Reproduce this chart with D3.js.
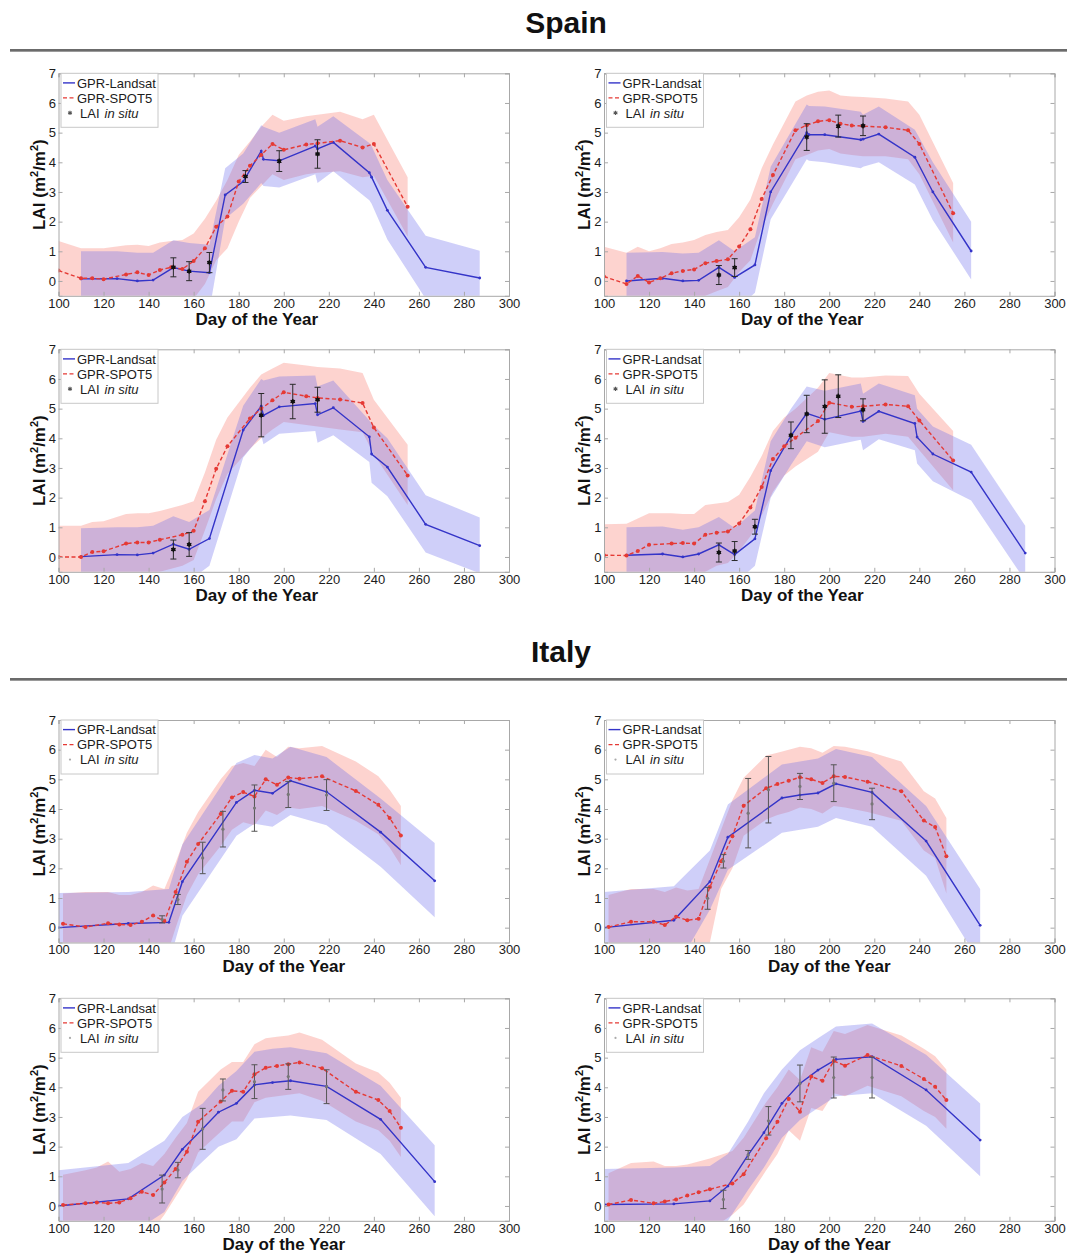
<!DOCTYPE html>
<html>
<head>
<meta charset="utf-8">
<script src="https://cdn.jsdelivr.net/npm/d3@7"></script>
<style>
  body { margin: 0; background: #fff; }
  svg { display: block; }
</style>
</head>
<body>
<script>
// LAI time series per site: rows are [day, LAI, lower bound, upper bound]
// in-situ rows are [day, LAI, std]
const spainA_landsat = [[110,0.07,-2.0,1.0],[126,0.08,-2.0,1.0],[135,0.0,-2.0,0.95],[142,0.03,-2.0,0.95],[151,0.45,-1.5,1.37],[158,0.33,-1.5,1.28],[167,0.28,-1.0,1.22],[174,2.9,2.1,3.8],[182,3.35,2.6,4.3],[190,4.38,3.3,5.25],[191,4.1,3.2,5.2],[198,4.05,3.15,5.0],[214,4.55,3.6,5.45],[215,4.45,3.3,5.2],[222,4.67,3.7,5.55],[238,3.65,2.72,4.65],[239,3.5,2.6,4.55],[246,2.38,1.4,3.4],[263,0.46,-0.6,1.52],[287,0.1,-0.8,1.02]];
const spainA_spot = [[100,0.35,-1.5,1.35],[110,0.09,-1.5,1.1],[115,0.09,-1.5,1.1],[120,0.06,-1.5,1.1],[130,0.22,-1.5,1.2],[135,0.29,-1.5,1.22],[140,0.2,-1.5,1.18],[145,0.37,-1.4,1.3],[150,0.46,-1.2,1.35],[155,0.40,-1.0,1.38],[160,0.67,-0.6,1.6],[165,1.1,-0.1,2.1],[170,1.83,0.7,2.7],[175,2.17,1.1,3.4],[180,3.35,2.0,4.25],[185,3.88,2.8,4.7],[190,4.25,3.2,5.2],[195,4.62,3.6,5.6],[200,4.42,3.4,5.4],[210,4.6,3.6,5.55],[215,4.64,3.65,5.6],[225,4.73,3.7,5.7],[235,4.5,3.5,5.45],[240,4.62,3.55,5.6],[255,2.5,1.5,3.5]];
const spainA_insitu = [[151,0.46,0.32],[158,0.33,0.32],[167,0.62,0.34],[183,3.52,0.2],[198,4.04,0.35],[215,4.28,0.48]];

const spainB_landsat = [[110,0.0,-2.0,0.95],[126,0.09,-2.0,0.98],[135,0.0,-2.0,0.93],[142,0.02,-1.8,0.95],[151,0.46,-1.0,1.37],[158,0.12,-1.0,1.0],[167,0.54,-0.4,1.47],[174,3.0,2.08,3.85],[190,5.0,4.1,5.95],[191,4.93,4.05,5.9],[198,4.93,4.0,5.88],[214,4.76,3.8,5.7],[215,4.78,3.85,5.6],[222,4.95,4.0,5.88],[238,4.17,3.25,5.1],[246,3.0,2.05,4.0],[263,1.01,0.05,2.0]];
const spainB_spot = [[100,0.15,-1.5,1.15],[110,-0.1,-1.5,0.95],[115,0.17,-1.5,1.15],[120,-0.05,-1.5,1.0],[125,0.09,-1.5,1.1],[130,0.26,-1.4,1.25],[135,0.34,-1.2,1.3],[140,0.39,-0.9,1.38],[145,0.6,-0.5,1.55],[150,0.67,-0.35,1.65],[155,0.73,-0.2,1.72],[160,1.16,0.3,2.15],[165,1.74,0.7,2.75],[170,2.76,1.8,3.8],[175,3.57,2.6,4.6],[185,5.08,4.1,6.05],[190,5.25,4.25,6.25],[195,5.38,4.4,6.38],[200,5.42,4.45,6.42],[205,5.3,4.3,6.25],[210,5.24,4.25,6.22],[215,5.22,4.2,6.2],[225,5.18,4.2,6.15],[235,5.08,4.1,6.05],[240,4.62,3.6,5.6],[255,2.28,1.3,3.3]];
const spainB_insitu = [[151,0.2,0.32],[158,0.45,0.3],[190,4.85,0.45],[204,5.22,0.37],[215,5.23,0.33]];

const spainC_landsat = [[110,0.01,-2.0,0.97],[126,0.08,-2.0,1.0],[135,0.07,-2.0,1.0],[142,0.13,-1.8,1.05],[151,0.43,-1.2,1.37],[158,0.26,-0.8,1.18],[167,0.62,-0.3,1.58],[182,4.28,3.35,5.1],[190,5.08,4.1,6.0],[191,4.77,3.8,5.95],[198,5.06,4.15,6.08],[214,5.17,4.25,6.12],[215,4.79,3.85,5.75],[222,5.03,4.1,5.95],[238,4.05,3.2,4.6],[239,3.47,2.5,4.5],[246,3.03,2.05,4.0],[263,1.1,0.15,2.08],[287,0.38,-0.55,1.33]];
const spainC_spot = [[100,0.0,-1.5,1.05],[110,0.0,-1.5,1.05],[115,0.17,-1.5,1.18],[120,0.19,-1.5,1.2],[130,0.45,-1.4,1.45],[135,0.49,-1.3,1.47],[140,0.49,-1.0,1.47],[145,0.58,-0.5,1.55],[155,0.75,-0.3,1.75],[160,0.88,-0.1,1.88],[165,1.88,0.9,2.85],[170,2.97,1.95,3.95],[175,3.73,2.8,4.7],[185,4.67,3.65,5.7],[190,5.0,4.0,6.15],[195,5.28,4.3,6.35],[200,5.55,4.55,6.55],[210,5.42,4.45,6.45],[215,5.36,4.4,6.4],[225,5.31,4.3,6.35],[235,5.19,4.2,6.2],[240,4.36,3.45,5.3],[255,2.75,1.75,3.78]];
const spainC_insitu = [[151,0.25,0.32],[158,0.42,0.4],[190,4.78,0.73],[204,5.24,0.58],[215,5.3,0.42]];

const spainD_landsat = [[110,0.06,-2.0,1.0],[126,0.1,-2.0,1.03],[135,0.0,-2.0,0.92],[142,0.1,-1.5,1.0],[151,0.41,-0.8,1.35],[158,0.08,-0.9,0.98],[167,0.61,-0.3,1.57],[174,2.91,2.0,3.9],[183,4.08,3.1,5.0],[190,4.84,3.9,5.75],[198,4.64,3.7,5.6],[214,4.92,3.95,5.85],[215,4.57,3.6,5.5],[222,4.91,3.97,5.85],[238,4.5,3.6,5.45],[239,4.04,3.15,5.0],[246,3.47,2.55,4.4],[263,2.86,1.9,3.78],[287,0.13,-0.8,1.05]];
const spainD_spot = [[100,0.06,-1.5,1.1],[110,0.05,-1.5,1.12],[115,0.2,-1.5,1.3],[120,0.41,-1.5,1.47],[130,0.45,-1.4,1.47],[135,0.47,-1.3,1.45],[140,0.45,-1.0,1.45],[145,0.75,-0.5,1.75],[150,0.82,-0.3,1.8],[155,0.86,-0.2,1.85],[160,1.13,0.2,2.1],[165,1.67,0.7,2.7],[170,2.36,1.4,3.4],[175,3.3,2.2,4.25],[180,3.73,2.75,4.7],[185,4.02,3.05,5.0],[195,4.58,3.55,5.7],[200,5.2,4.2,6.2],[210,5.06,4.05,6.05],[215,5.08,4.05,6.05],[225,5.14,4.15,6.12],[235,5.08,4.05,6.1],[240,4.6,3.6,5.5],[255,3.25,2.25,4.25]];
const spainD_insitu = [[151,0.15,0.32],[158,0.2,0.32],[167,1.02,0.25],[183,4.1,0.45],[190,4.82,0.63],[198,5.07,0.9],[204,5.42,0.72],[215,4.96,0.37]];

const italyA_landsat = [[100,0.0,-1.5,1.17],[131,0.14,-1.5,1.2],[149,0.18,-1.2,1.3],[155,1.55,0.4,2.8],[179,4.22,3.1,5.55],[187,4.63,3.5,5.82],[195,4.53,3.4,5.7],[203,4.95,3.8,6.1],[219,4.58,3.45,5.75],[243,3.22,2.05,4.35],[267,1.58,0.35,2.85]];
const italyA_spot = [[102,0.13,-1.5,1.15],[112,0.02,-1.5,1.2],[122,0.15,-1.5,1.2],[127,0.11,-1.5,1.1],[132,0.09,-1.5,1.1],[137,0.2,-1.5,1.2],[142,0.41,-1.3,1.42],[147,0.22,-1.2,1.3],[152,1.2,0.0,2.2],[157,2.22,1.1,3.2],[162,2.82,1.8,3.9],[172,3.83,2.75,5.0],[177,4.39,3.3,5.45],[182,4.57,3.55,5.55],[187,4.42,3.45,5.45],[192,5.0,3.95,6.0],[197,4.82,3.8,5.75],[202,5.06,4.05,6.1],[207,5.02,4.0,6.05],[217,5.1,4.1,6.12],[232,4.61,3.6,5.6],[242,4.14,3.15,5.1],[247,3.7,2.7,4.65],[252,3.11,2.1,4.1]];
const italyA_insitu = [[146,0.28,0.12],[153,0.95,0.17],[164,2.35,0.53],[173,3.32,0.6],[187,4.03,0.78],[202,4.49,0.44],[219,4.47,0.52]];

const italyB_landsat = [[100,0.0,-1.5,1.2],[131,0.25,-1.5,1.4],[147,1.55,0.6,2.6],[155,3.05,1.95,4.15],[179,4.37,3.2,5.5],[187,4.47,3.3,5.6],[195,4.54,3.4,5.7],[203,4.85,3.7,6.02],[219,4.56,3.4,5.75],[243,2.92,1.75,4.1],[267,0.08,-1.2,1.3]];
const italyB_spot = [[102,0.02,-1.5,1.1],[112,0.2,-1.5,1.3],[122,0.2,-1.5,1.3],[127,0.09,-1.5,1.2],[132,0.37,-1.5,1.35],[137,0.25,-1.5,1.25],[142,0.3,-1.5,1.3],[147,1.37,-0.5,2.3],[152,2.24,1.3,3.3],[157,3.08,2.0,4.3],[162,4.11,3.1,5.05],[172,4.7,3.65,5.8],[177,4.84,3.8,5.9],[182,4.95,3.9,6.0],[187,5.07,4.05,6.1],[192,5.0,4.0,6.05],[197,4.88,3.85,5.9],[202,5.1,4.1,6.12],[207,5.08,4.05,6.1],[217,4.92,3.9,5.95],[232,4.6,3.6,5.6],[242,3.61,2.6,4.6],[247,3.39,2.35,4.35],[252,2.41,1.15,3.7]];
const italyB_insitu = [[146,0.99,0.37],[153,2.24,0.23],[164,3.86,1.17],[173,4.65,1.12],[187,4.76,0.44],[202,4.87,0.62],[219,4.17,0.53]];

const italyC_landsat = [[100,0.0,-1.5,1.2],[131,0.24,-1.0,1.45],[147,1.04,-0.2,2.2],[155,1.91,0.85,3.0],[164,2.6,1.5,3.45],[171,3.16,2.0,4.05],[179,3.46,2.25,4.55],[187,4.08,2.95,5.2],[195,4.16,3.0,5.3],[203,4.22,3.05,5.35],[219,4.03,2.9,5.15],[243,2.92,1.75,4.05],[267,0.82,-0.35,2.05]];
const italyC_spot = [[102,0.03,-1.5,1.05],[112,0.09,-1.5,1.2],[117,0.12,-1.5,1.3],[122,0.09,-1.5,1.5],[127,0.12,-1.5,1.15],[132,0.26,-1.4,1.25],[137,0.48,-1.0,1.45],[142,0.37,-0.8,1.35],[147,0.79,-0.3,1.75],[152,1.25,0.3,2.3],[157,1.83,0.9,2.8],[162,2.84,1.8,3.85],[172,3.52,2.5,4.6],[177,3.88,2.85,4.85],[182,3.85,2.85,4.85],[187,4.44,3.5,5.45],[192,4.66,3.65,5.65],[197,4.72,3.7,5.7],[202,4.78,3.75,5.75],[207,4.84,3.8,5.85],[217,4.64,3.55,5.6],[232,3.85,2.85,4.8],[242,3.57,2.55,4.5],[247,3.2,2.2,4.15],[252,2.64,1.65,3.65]];
const italyC_insitu = [[146,0.57,0.47],[153,1.21,0.26],[164,2.6,0.69],[173,3.91,0.37],[187,4.19,0.57],[202,4.36,0.43],[219,4.02,0.57]];

const italyD_landsat = [[100,0.05,-1.5,1.25],[131,0.07,-1.3,1.3],[147,0.17,-1.0,1.35],[155,0.67,-0.5,1.75],[164,1.72,0.55,2.85],[171,2.47,1.3,3.8],[179,3.46,2.3,4.6],[187,4.13,2.9,5.25],[195,4.58,3.3,5.65],[203,4.94,3.7,6.05],[219,5.03,3.8,6.15],[243,3.91,2.7,5.1],[267,2.22,1.0,3.45]];
const italyD_spot = [[102,0.05,-1.5,1.1],[112,0.2,-1.5,1.45],[122,0.09,-1.5,1.5],[127,0.15,-1.5,1.35],[132,0.22,-1.4,1.35],[137,0.35,-1.2,1.4],[142,0.46,-1.0,1.5],[147,0.56,-0.8,1.6],[157,0.76,-0.3,1.85],[162,1.07,0.05,2.3],[172,2.28,1.2,3.5],[177,2.84,1.75,4.0],[182,3.61,2.55,4.6],[187,3.18,2.2,4.25],[192,4.36,3.3,5.35],[197,4.22,3.2,5.2],[202,4.89,3.8,5.9],[207,4.73,3.7,5.8],[217,5.09,4.05,6.1],[232,4.72,3.7,5.75],[242,4.28,3.2,5.3],[247,4.02,3.0,5.05],[252,3.57,2.6,4.6]];
const italyD_insitu = [[153,0.22,0.31],[164,1.72,0.15],[173,2.87,0.48],[187,4.13,0.62],[202,4.33,0.69],[219,4.33,0.69]];

const dayTicks = [100, 120, 140, 160, 180, 200, 220, 240, 260, 280, 300];
const laiTicks = [0, 1, 2, 3, 4, 5, 6, 7];
const legendLabels = ["GPR-Landsat", "GPR-SPOT5", "LAI"];
const sectionTitles = ["Spain", "Italy"];

// ---- layout ----
const W = 1067, H = 1254;
const PW = 450.5, PH = 222.5;
const colX = [58.5, 604];
const rowY = [73.3, 349.3, 720, 998.3];

const panels = [
  { landsat: spainA_landsat, spot: spainA_spot, insitu: spainA_insitu, col: 0, row: 0, star: true },
  { landsat: spainB_landsat, spot: spainB_spot, insitu: spainB_insitu, col: 1, row: 0, star: true },
  { landsat: spainC_landsat, spot: spainC_spot, insitu: spainC_insitu, col: 0, row: 1, star: true },
  { landsat: spainD_landsat, spot: spainD_spot, insitu: spainD_insitu, col: 1, row: 1, star: true },
  { landsat: italyA_landsat, spot: italyA_spot, insitu: italyA_insitu, col: 0, row: 2, star: false },
  { landsat: italyB_landsat, spot: italyB_spot, insitu: italyB_insitu, col: 1, row: 2, star: false },
  { landsat: italyC_landsat, spot: italyC_spot, insitu: italyC_insitu, col: 0, row: 3, star: false },
  { landsat: italyD_landsat, spot: italyD_spot, insitu: italyD_insitu, col: 1, row: 3, star: false }
];

const BLUE = "#3434c8", RED = "#e53a35";
const BLUE_FILL = "rgb(105,105,235)", RED_FILL = "rgb(250,110,95)";
const FRAME = "#a8a8a8";
const FONT = "'Liberation Sans', Arial, Helvetica, sans-serif";

const svg = d3.select("body").append("svg")
  .attr("width", W).attr("height", H)
  .style("font-family", FONT);

// section headings with rule underneath
const headings = [
  { text: sectionTitles[0], x: 566, y: 33, rule: 50 },
  { text: sectionTitles[1], x: 561, y: 662, rule: 679 }
];
headings.forEach(hd => {
  svg.append("text").attr("x", hd.x).attr("y", hd.y)
    .attr("text-anchor", "middle").attr("font-size", 30).attr("font-weight", "bold")
    .attr("fill", "#111").text(hd.text);
  svg.append("line").attr("x1", 10).attr("x2", W).attr("y1", hd.rule).attr("y2", hd.rule)
    .attr("stroke", "#3a3a3a").attr("stroke-width", 1.6);
  svg.append("line").attr("x1", 10).attr("x2", W).attr("y1", hd.rule + 1.5).attr("y2", hd.rule + 1.5)
    .attr("stroke", "#9a9a9a").attr("stroke-width", 1);
});

function asterisk(g, cx, cy, r, color) {
  const p = d3.path();
  for (let k = 0; k < 3; k++) {
    const a = Math.PI / 2 + k * Math.PI / 3;
    p.moveTo(cx + r * Math.cos(a), cy + r * Math.sin(a));
    p.lineTo(cx - r * Math.cos(a), cy - r * Math.sin(a));
  }
  g.append("path").attr("d", p.toString()).attr("stroke", color).attr("stroke-width", 1.1).attr("fill", "none");
}

panels.forEach((p, i) => {
  const ox = colX[p.col], oy = rowY[p.row];
  const g = svg.append("g").attr("transform", `translate(${ox},${oy})`);
  const x = d3.scaleLinear().domain([100, 300]).range([0, PW]);
  const y = d3.scaleLinear().domain([-0.5, 7]).range([PH, 0]);

  const clipId = "clip" + i;
  g.append("clipPath").attr("id", clipId).append("rect")
    .attr("x", 0).attr("y", 0).attr("width", PW).attr("height", PH);
  const plot = g.append("g").attr("clip-path", `url(#${clipId})`);

  const band = d3.area().x(d => x(d[0])).y0(d => y(d[2])).y1(d => y(d[3]));
  const line = d3.line().x(d => x(d[0])).y(d => y(d[1]));

  // uncertainty bands
  plot.append("path").datum(p.spot).attr("d", band)
    .attr("fill", RED_FILL).attr("fill-opacity", 0.3);
  plot.append("path").datum(p.landsat).attr("d", band)
    .attr("fill", BLUE_FILL).attr("fill-opacity", 0.32);

  // GPR-Landsat
  plot.append("path").datum(p.landsat).attr("d", line)
    .attr("fill", "none").attr("stroke", BLUE).attr("stroke-width", 1.4);
  plot.selectAll(".ld").data(p.landsat).join("circle")
    .attr("cx", d => x(d[0])).attr("cy", d => y(d[1])).attr("r", 1.4).attr("fill", BLUE);

  // GPR-SPOT5
  plot.append("path").datum(p.spot).attr("d", line)
    .attr("fill", "none").attr("stroke", RED).attr("stroke-width", 1.4)
    .attr("stroke-dasharray", "4,2.5");
  plot.selectAll(".sd").data(p.spot).join("circle")
    .attr("cx", d => x(d[0])).attr("cy", d => y(d[1])).attr("r", 2).attr("fill", RED);

  // in-situ LAI with error bars
  const ebColor = p.star ? "#2a2a2a" : "#555";
  p.insitu.forEach(d => {
    const cx = x(d[0]), top = y(d[1] + d[2]), bot = y(d[1] - d[2]);
    plot.append("line").attr("x1", cx).attr("x2", cx).attr("y1", top).attr("y2", bot)
      .attr("stroke", ebColor).attr("stroke-width", 1);
    [top, bot].forEach(yy => plot.append("line").attr("x1", cx - 3).attr("x2", cx + 3)
      .attr("y1", yy).attr("y2", yy).attr("stroke", ebColor).attr("stroke-width", 1));
    if (p.star) {
      plot.append("circle").attr("cx", cx).attr("cy", y(d[1])).attr("r", 2).attr("fill", "#111");
      asterisk(plot, cx, y(d[1]), 2.6, "#111");
    } else {
      plot.append("circle").attr("cx", cx).attr("cy", y(d[1])).attr("r", 1.6).attr("fill", "#777");
    }
  });

  // axes with inward ticks on all four sides
  const axB = d3.axisBottom(x).tickValues(dayTicks).tickSize(-4).tickPadding(2.5);
  const axT = d3.axisTop(x).tickValues(dayTicks).tickSize(-4).tickFormat("");
  const axL = d3.axisLeft(y).tickValues(laiTicks).tickSize(-4).tickPadding(2.5);
  const axR = d3.axisRight(y).tickValues(laiTicks).tickSize(-4).tickFormat("");
  const styleAxis = sel => {
    sel.select(".domain").attr("stroke", FRAME);
    sel.selectAll(".tick line").attr("stroke", FRAME);
    sel.selectAll(".tick text").attr("fill", "#1c1c1c").attr("font-size", 13)
      .attr("font-family", FONT);
  };
  g.append("g").attr("transform", `translate(0,${PH})`).call(axB).call(styleAxis);
  g.append("g").call(axT).call(styleAxis);
  g.append("g").call(axL).call(styleAxis);
  g.append("g").attr("transform", `translate(${PW},0)`).call(axR).call(styleAxis);

  // axis titles
  const xCenter = p.star ? PW / 2 - 27 : PW / 2;
  g.append("text").attr("x", xCenter).attr("y", PH + 29.5)
    .attr("text-anchor", "middle").attr("font-size", 17).attr("font-weight", "bold")
    .attr("fill", "#111").text("Day of the Year");
  const yl = g.append("text")
    .attr("transform", `translate(-14,${PH / 2}) rotate(-90)`)
    .attr("text-anchor", "middle").attr("font-size", 17).attr("font-weight", "bold")
    .attr("fill", "#111");
  yl.append("tspan").text("LAI (m");
  yl.append("tspan").attr("font-size", 11).attr("dy", -7).text("2");
  yl.append("tspan").attr("dy", 7).text("/m");
  yl.append("tspan").attr("font-size", 11).attr("dy", -7).text("2");
  yl.append("tspan").attr("dy", 7).text(")");

  // legend
  const lg = g.append("g").attr("transform", "translate(2.5,0)");
  lg.append("rect").attr("x", 0).attr("y", 0).attr("width", 97).attr("height", 54)
    .attr("fill", "#fff").attr("stroke", "#c8c8c8").attr("stroke-width", 1);
  const rows = [9.6, 24.6, 39.6];
  lg.append("line").attr("x1", 2).attr("x2", 14).attr("y1", rows[0]).attr("y2", rows[0])
    .attr("stroke", BLUE).attr("stroke-width", 1.4);
  lg.append("line").attr("x1", 2).attr("x2", 14).attr("y1", rows[1]).attr("y2", rows[1])
    .attr("stroke", RED).attr("stroke-width", 1.4).attr("stroke-dasharray", "4,2.5");
  if (p.star) {
    asterisk(lg, 9, rows[2], 2.2, "#555");
  } else {
    lg.append("circle").attr("cx", 9).attr("cy", rows[2]).attr("r", 1.1).attr("fill", "#aaa");
  }
  legendLabels.forEach((t, k) => {
    const tx = lg.append("text").attr("x", k === 2 ? 19 : 16).attr("y", rows[k] + 4.7)
      .attr("font-size", 13).attr("fill", "#1c1c1c").text(t);
    if (k === 2) {
      tx.append("tspan").attr("font-style", "italic").attr("dx", 5).text("in situ");
    }
  });
});
</script>
</body>
</html>
